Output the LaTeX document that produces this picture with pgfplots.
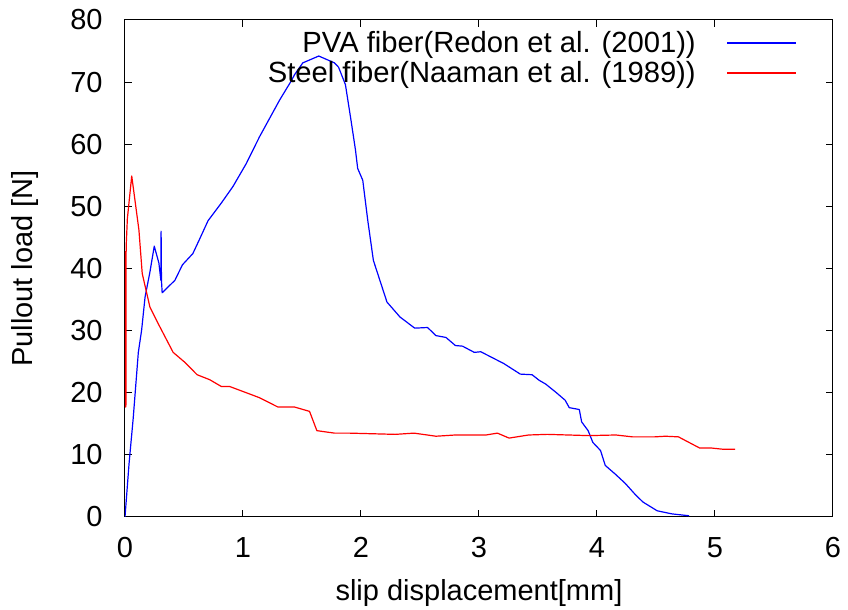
\documentclass[border=0pt]{standalone}
\usepackage{fontspec}
\setmainfont{Liberation Sans}
\usepackage{pgfplots}
\pgfplotsset{compat=1.18}
\begin{document}
\fontsize{14.5pt}{17.4pt}\selectfont
\begin{tikzpicture}
\path[use as bounding box] (-62.5pt,-46.5pt) rectangle (361.5pt,258.5pt);
\begin{axis}[
  at={(0,0)}, anchor=south west,
  scale only axis, width=354pt, height=248.5pt,
  xmin=0, xmax=6, ymin=0, ymax=80,
  xtick={0,1,...,6}, ytick={0,10,...,80},
  tick align=inside, major tick length=3.5pt,
  tick pos=both,
  axis line style={line width=0.5pt, black},
  every tick/.style={black, line width=0.5pt},
  /pgf/number format/assume math mode=true,
  tick label style={font=\fontsize{14.5pt}{17.4pt}\selectfont, inner sep=0pt},
  yticklabel style={anchor=east, xshift=-11pt},
  xticklabel style={anchor=north, yshift=-10pt},
  xlabel={slip displacement[mm]},
  ylabel={Pullout load [N]},
  label style={font=\fontsize{14.5pt}{17.4pt}\selectfont, inner sep=0pt},
  xlabel style={at={(axis description cs:0.5,-0.1529)}, anchor=center},
  ylabel style={at={(axis description cs:-0.1412,0.5)}, anchor=center},
  legend cell align=right,
  legend plot pos=right,
  legend image code/.code={\draw[#1] (0pt,1.5pt) -- (34.5pt,1.5pt);},
  legend style={draw=none, fill=none, at={(1,1)}, anchor=north east,
    xshift=-18pt, yshift=-6.5pt, inner sep=0pt, outer sep=0pt,
    row sep=2pt, column sep=15.5pt,
    nodes={inner sep=0pt, text height=10pt, text depth=3pt},
    font=\fontsize{14.6pt}{17.5pt}\selectfont},
]
\addplot[color={rgb,255:red,0;green,0;blue,255}, line width=0.6pt, line join=round] coordinates {
(0,0) (0.034,8.5) (0.07,16) (0.113,26.5) (0.141,30.1) (0.17,35.4) (0.211,39.4)
(0.248,43.6) (0.287,40.9) (0.304,38.1) (0.306,46.0) (0.309,38.1) (0.315,36.1)
(0.423,38.1) (0.487,40.6) (0.575,42.4) (0.634,44.8) (0.704,47.7) (0.815,50.5)
(0.915,53.2) (1.028,56.9) (1.14,61.2) (1.31,67.1) (1.409,70.2) (1.437,71.2)
(1.507,73.1) (1.642,74.2) (1.775,73.1) (1.81,72.4) (1.868,69.6) (1.915,63.9)
(1.953,59.1) (1.972,56.1) (2.015,54.2) (2.057,47.8) (2.105,41.3) (2.22,34.6)
(2.33,32.2) (2.455,30.4) (2.564,30.5) (2.635,29.2) (2.72,28.9) (2.80,27.6)
(2.86,27.5) (2.96,26.5) (3.015,26.6) (3.21,24.7) (3.35,23.0) (3.45,22.9)
(3.51,22.0) (3.565,21.4) (3.65,20.1) (3.73,18.8) (3.765,17.6) (3.85,17.3)
(3.87,15.3) (3.925,13.9) (3.965,12.0) (4.03,10.7) (4.07,8.3) (4.155,6.9)
(4.24,5.4) (4.325,3.6) (4.39,2.4) (4.51,1.0) (4.635,0.5) (4.78,0.2)
};
\addlegendentry{PVA fiber(Redon et al. (2001))}
\addplot[color={rgb,255:red,255;green,0;blue,0}, line width=0.6pt, line join=round] coordinates {
(0.002,17.7) (0.003,42.7) (0.004,17.7) (0.005,42.7) (0.006,17.7) (0.007,42.7)
(0.008,18) (0.009,42) (0.011,44) (0.02,48) (0.057,54.9) (0.118,46.2) (0.146,39.2)
(0.211,33.8) (0.282,31.1) (0.408,26.5) (0.507,24.9) (0.611,22.9) (0.718,22.1)
(0.817,21.0) (0.888,21.0) (1.14,19.2) (1.296,17.7) (1.437,17.7) (1.564,17.0)
(1.626,13.9) (1.775,13.5) (1.90,13.5) (2.29,13.3) (2.45,13.5) (2.635,13.0)
(2.80,13.2) (3.06,13.2) (3.156,13.5) (3.255,12.7) (3.42,13.2) (3.58,13.3)
(3.93,13.1) (4.16,13.2) (4.30,12.9) (4.49,12.9) (4.58,13.0) (4.69,12.9)
(4.87,11.1) (4.97,11.1) (5.07,10.9) (5.17,10.9)
};
\addlegendentry{Steel fiber(Naaman et al. (1989))}
\end{axis}
\end{tikzpicture}
\end{document}
